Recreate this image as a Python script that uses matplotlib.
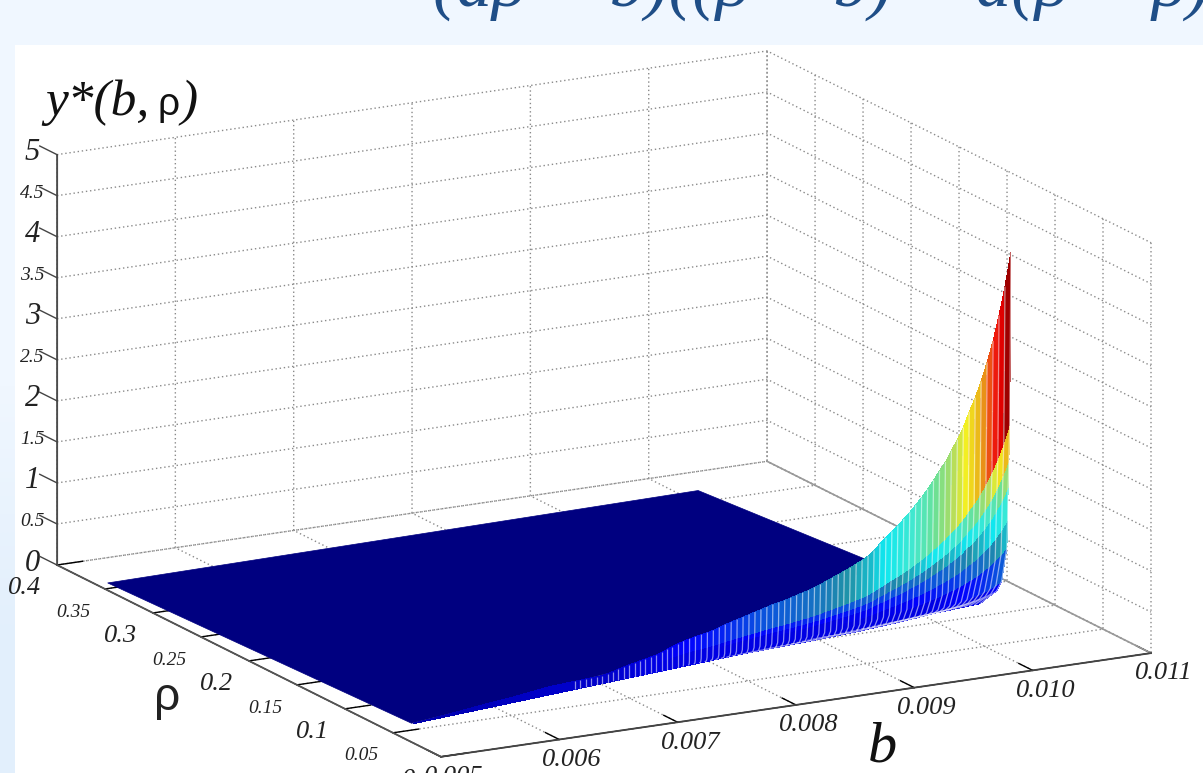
import numpy as np
import matplotlib
matplotlib.use("Agg")
import matplotlib.pyplot as plt
from matplotlib.colors import LinearSegmentedColormap
from matplotlib.patches import Rectangle
from mpl_toolkits.mplot3d import proj3d
from mpl_toolkits.mplot3d.art3d import Poly3DCollection

# ---------- data ----------
b_ticks = [0.005, 0.006, 0.007, 0.008, 0.009, 0.010, 0.011]
b_labels = ["0.005", "0.006", "0.007", "0.008", "0.009", "0.010", "0.011"]
rho_ticks = [0, 0.05, 0.1, 0.15, 0.2, 0.25, 0.3, 0.35, 0.4]
rho_labels = ["0", "0.05", "0.1", "0.15", "0.2", "0.25", "0.3", "0.35", "0.4"]
z_ticks = [0, 0.5, 1, 1.5, 2, 2.5, 3, 3.5, 4, 4.5, 5]
z_labels = ["0", "0.5", "1", "1.5", "2", "2.5", "3", "3.5", "4", "4.5", "5"]

# flat (near zero) part of the surface: its four corners
flat_b = [0.0051, 0.01017, 0.01045, 0.00525]
flat_rho = [0.36, 0.37, 0.154, 0.062]

# raised sheet: height reached by each constant-b rib, b = 0.00525 ... 0.01053
z_top = [.005, .008, .011, .014, .017, .02, .024, .028, .032, .036, .04, .044, .048, .052, .056,
         .06, .062, .065, .067, .07, .075, .08, .085, .09, .095, .10,
         .10, .10, .10, .10, .10, .10, .10, .10, .10, .10,
         .11, .12, .135, .15, .16, .17, .18, .19, .20, .21, .23, .25, .27, .29, .31, .33, .345, .36, .375, .39,
         .415, .44, .46, .48, .50, .52, .54, .56, .58, .60, .615, .63, .65, .67, .69, .71, .735, .76, .79, .82,
         .85, .88, .91, .945, .98, 1.02, 1.08, 1.15, 1.21, 1.28, 1.34, 1.41, 1.48, 1.56, 1.64, 1.73, 1.83, 1.93, 2.03,
         2.16, 2.28, 2.42, 2.6, 2.76, 2.95, 3.17, 3.42, 3.72, 4.06, 4.47]
# shape of a rib from its foot to its top
rib_z = [0, .027, .056, .09, .19, .265, .355, .43, .53, .75, 1.0]
rib_rho = [0, .25, .53, .70, .87, .89, .91, .934, .96, .98, 1.0]
rib_colour = [.10, .12, .14, .22, .32, .42, .55, .72, 1.0, 1.0]
rho_foot_per_b = 11.4
rho_crest = 0.088

W, H = 1203, 773
fig = plt.figure(figsize=(W / 100, H / 100), dpi=100)

surface_map = LinearSegmentedColormap.from_list("surface", [
    (0.0, "#000080"), (0.08, "#0000c8"), (0.14, "#0000ff"), (0.20, "#0a50e0"), (0.28, "#2090a8"),
    (0.35, "#10e8f0"), (0.42, "#40e8d0"), (0.50, "#70e090"), (0.56, "#b0dc60"), (0.63, "#f4f020"),
    (0.72, "#e8a818"), (0.82, "#f02010"), (0.90, "#e00000"), (1.0, "#800000")])

# page background and white panel
bg = fig.add_axes([0, 0, 1, 1], zorder=-5)
bg.imshow(np.array([[0.0, 0.0], [0.0, 0.0], [1.0, 1.0]]), aspect="auto", interpolation="bilinear",
          cmap=LinearSegmentedColormap.from_list("p", ["#f0f7ff", "#e2effc"]),
          extent=[0, 1, 0, 1], vmin=0, vmax=1)
bg.set_axis_off()
fig.add_artist(Rectangle((15 / W, 0), 1 - 15 / W, 1 - 45 / H, transform=fig.transFigure,
                         facecolor="white", edgecolor="none", zorder=-1))

ax = fig.add_axes([0.1, 0.1, 0.8, 0.8], projection="3d", proj_type="ortho", computed_zorder=False)
ax.patch.set_alpha(0)
ax.view_init(elev=15.67, azim=-118.4)
ax.set_box_aspect((1, 1, 0.528))
ax.set_xlim(0.005, 0.011)
ax.set_ylim(0, 0.4)
ax.set_zlim(0, 5)

# panes and grid
for axis in (ax.xaxis, ax.yaxis, ax.zaxis):
    axis.set_pane_color((1, 1, 1, 0))
    axis.pane.set_edgecolor((1, 1, 1, 0))
    axis._axinfo["grid"].update(color="#8a8a8a", linestyle=(0, (1, 2)), linewidth=1.0)
    axis._axinfo["axisline"]["linewidth"] = 1.3
    axis._axinfo["axisline"]["color"] = "#444444"
    axis._axinfo["tick"]["inward_factor"] = 0.0
    axis._axinfo["tick"]["outward_factor"] = 0.45
    axis._axinfo["tick"]["color"] = "#444444"
    axis._axinfo["tick"]["linewidth"] = {True: 1.0, False: 1.0}
ax.zaxis._axinfo["tick"]["outward_factor"] = 0.0

ax.set_xticks(b_ticks)
ax.set_xticklabels(b_labels)
ax.set_yticks(rho_ticks)
ax.set_yticklabels(rho_labels)
ax.set_zticks(z_ticks)
ax.set_zticklabels(z_labels)
TF = "Liberation Serif"
for lab in ax.get_xticklabels():
    lab.set(fontfamily=TF, fontstyle="italic", fontsize=19, color="#222222", va="center")
for lab, txt in zip(ax.get_yticklabels(), rho_labels):
    lab.set(fontfamily=TF, fontstyle="italic", color="#222222", fontsize=14 if len(txt) == 4 else 19, va="center")
for lab, txt in zip(ax.get_zticklabels(), z_labels):
    lab.set(fontfamily=TF, fontstyle="italic", color="#222222", fontsize=14 if len(txt) == 3 else 22, va="center")
ax.tick_params(axis="x", pad=7)
ax.tick_params(axis="y", pad=12)
ax.tick_params(axis="z", pad=2)

# axis edges and the z tick marks, which lean along rho
ax.plot([0.011, 0.011], [0, 0.4], [0, 0], color="#999999", lw=1.2, zorder=1)
ax.plot([0.005, 0.011], [0, 0], [0, 0], color="#444444", lw=1.3, zorder=1)
ax.plot([0.005, 0.005], [0, 0.4], [0, 0], color="#555555", lw=1.3, zorder=1)
ax.plot([0.005, 0.005], [0.4, 0.4], [0, 5], color="#555555", lw=1.3, zorder=1)
for tick in z_ticks:
    ax.plot([0.005, 0.005], [0.4, 0.418], [tick, tick], color="#444444", lw=1.0, zorder=1)

# flat part
flat = Poly3DCollection([list(zip(flat_b, flat_rho, [0] * 4))], facecolor="#000080", edgecolor="#000080",
                        linewidth=0.5, zorder=2)
ax.add_collection3d(flat)

# raised sheet
z_top_a = np.array(z_top)
b_rib = np.linspace(0.00525, 0.01053, len(z_top_a))
rho_foot = rho_foot_per_b * b_rib
rho_head = np.minimum(rho_crest, rho_foot)
fr_z = np.array(rib_z)
fr_r = np.array(rib_rho)
B = np.tile(b_rib, (len(fr_z), 1))
R = np.outer(1 - fr_r, rho_foot) + np.outer(fr_r, rho_head)
Z = np.outer(fr_z, z_top_a)
top_c = (z_top_a / 4.47) ** 0.9 + 0.05
C = np.outer(np.array(rib_colour + [1.0]), top_c)
C = np.maximum(C, np.minimum(top_c, 0.11))
colours = surface_map(np.clip(C, 0, 1))
ax.plot_surface(B, R, Z, facecolors=colours, rstride=1, cstride=1, linewidth=0, antialiased=False,
                shade=False, zorder=3)
start = 30
ax.plot_wireframe(B[:, start:], R[:, start:], Z[:, start:], rstride=0, cstride=1, color="white",
                  linewidth=0.9, alpha=0.55, zorder=4)

# fit the box onto the figure
def px(x, y, z):
    ax.apply_aspect()
    ax.M = ax.get_proj()
    a, b_, _ = proj3d.proj_transform(x, y, z, ax.M)
    return ax.transData.transform((a, b_))

p0 = ax.get_position(original=True)
left = px(0.005, 0.4, 0)
right = px(0.011, 0, 0)
scale = (1151 - 57) / (right[0] - left[0])
size_x = p0.width * W * scale
size_y = p0.height * H * scale
ax.set_position([p0.x0, p0.y0, size_x / W, size_y / H])
left = px(0.005, 0.4, 0)
dx = 57 - left[0]
dy = (H - 565) - left[1]
q = ax.get_position(original=True)
ax.set_position([q.x0 + dx / W, q.y0 + dy / H, q.width, q.height])

# titles and axis names as figure text
def put(xp, yp, s, **kw):
    fig.text(xp / W, 1 - yp / H, s, **kw)

put(433, 6, "(aρ − b)((ρ − b) + a(ρ − ρ)", fontfamily=[TF, "DejaVu Serif"], fontstyle="italic", fontsize=51,
    color="#1f4e87", ha="left", va="baseline", zorder=-2)
put(45, 115, "y*(b,", fontfamily=TF, fontstyle="italic", fontsize=37, color="#111111", va="baseline")
put(157, 115, "ρ", fontfamily="Liberation Sans", fontsize=28, color="#111111", va="baseline")
put(180, 115, ")", fontfamily=TF, fontstyle="italic", fontsize=37, color="#111111", va="baseline")
put(167, 710, "ρ", fontfamily="Liberation Sans", fontsize=33, color="#222222", ha="center", va="baseline")
put(882, 762, "b", fontfamily=TF, fontstyle="italic", fontsize=42, color="#111111", ha="center", va="baseline")

fig.savefig("out.png", dpi=100)
